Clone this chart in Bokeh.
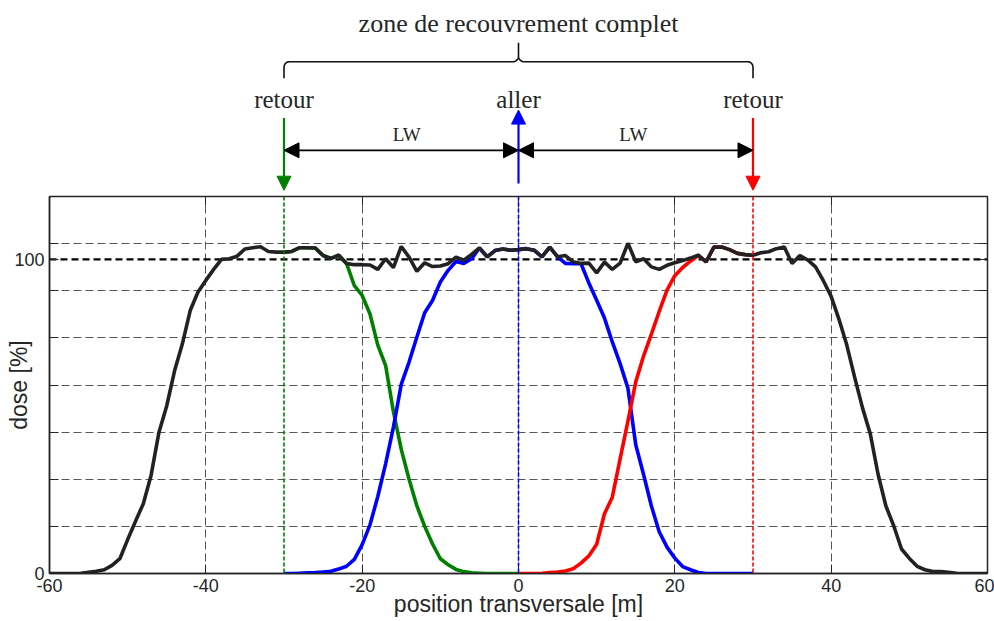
import numpy as np
from bokeh.plotting import figure
from bokeh.layouts import column
from bokeh.models import Range1d, FixedTicker, LinearAxis, Arrow, NormalHead, Span
from bokeh.core.properties import value
from bokeh.embed import file_html
from bokeh.resources import INLINE

# ---------------- data ----------------
x_total = list(range(-60, 61))
dose_total = [
    0, 0, 0, 0,
    0.1, 0.4, 0.7, 1.2, 2.6, 4.7, 10.8, 16.6, 22.2, 31.3, 44.9, 53.4, 64.5, 73.1, 83.7, 89.6, 93.3, 96.8,
    100.0, 100.2, 101.0, 103.3, 103.7, 104.0, 102.5, 102.3, 102.3, 102.5, 103.7, 103.7, 103.6, 101.2, 100.3,
    101.3, 98.7, 98.3, 98.3, 98.2, 96.8, 100.2, 97.4, 104.1, 100.7, 96.2, 98.9, 97.7, 97.9, 98.6, 100.7,
    99.7, 101.6, 103.6, 100.8, 102.8, 103.3, 102.9,
    103.1,
    103.4, 102.9, 100.8, 103.9, 100.8, 101.2, 99.2, 98.7, 98.8, 95.7, 99.1, 96.8, 98.8, 105.1, 99.2,
    100.2, 97.6, 96.8, 98.1, 98.9, 99.6, 100.4, 101.3, 99.2, 103.9, 103.9, 103.1, 101.9, 101.5, 101.3,
    102.1, 102.4, 103.4, 103.9, 98.7, 101.2, 99.8, 97.6, 93.2, 88.2, 80.9, 72.7, 62.5, 52.8, 44.5, 31.6,
    21.5, 15.2, 7.8, 4.8, 2.3, 1.2, 0.6, 0.6, 0.4, 0.1,
    0, 0, 0, 0,
]

x_aller = list(range(-30, 31))
dose_aller = [
    0, 0, 0.1, 0.2, 0.3, 0.5, 0.7, 1.4, 2.3, 4.5, 9.2, 15.5, 24.5, 34.9, 46.6, 60.2, 67.3, 75.3, 83.0,
    86.9, 92.8, 96.5, 99.3, 98.7, 100.2, 103.6, 100.8, 102.8, 103.3, 102.9,
    103.1,
    103.4, 102.9, 100.8, 103.9, 100.8, 98.7, 98.6, 98.6, 92.5, 87.0, 81.3, 73.7, 66.8, 59.0, 41.0, 31.5,
    21.5, 13.3, 8.4, 4.9, 2.2, 1.2, 0.3, 0, 0, 0, 0, 0, 0, 0,
]

x_retour_gauche = list(range(-30, 1))
dose_retour_gauche = [
    102.3, 102.5, 103.7, 103.7, 103.6, 101.2, 100.3, 101.3, 98.7, 91.6, 88.5, 82.6, 72.7, 66.2, 51.5,
    39.5, 30.0, 21.5, 15.0, 9.4, 4.7, 2.8, 1.3, 0.6, 0.2, 0.1, 0, 0, 0, 0, 0,
]

x_retour_droite = list(range(0, 31))
dose_retour_droite = [
    0, 0, 0, 0.1, 0.3, 0.5, 0.8, 1.5, 3.3, 5.6, 9.3, 19.0, 24.3, 36.5, 48.5, 61.0, 69.2, 76.2, 83.4,
    90.2, 94.8, 97.4, 99.4, 101.3, 99.2, 103.9, 103.9, 103.1, 101.9, 101.5, 101.3,
]

x_ticks = [-60, -40, -20, 0, 20, 40, 60]
x_tick_labels = {v: str(v) for v in x_ticks}
x_grid = [-40, -20, 0, 20, 40]
y_ticks = [0, 15, 30, 45, 60, 75, 90, 100, 105]
y_grid = [15, 30, 45, 60, 75, 90, 105]
y_tick_labels = {0: "0", 100: "100"}
ref_level = 100

pass_x = [-30, 0, 30]
pass_labels = ["retour", "aller", "retour"]
pass_colors = ["#008000", "#0000ff", "#ff0000"]
pass_dir = ["down", "up", "down"]
lw_labels = ["LW", "LW"]
lw_label_x = [-14.3, 14.7]
title_text = "zone de recouvrement complet"
x_label_text = "position transversale [m]"
y_label_text = "dose [%]"

# annotation heights (in dose units, above the frame)
y_title = 175.1
y_brace_mid, y_brace_end, y_brace_tip = 162.9, 157.6, 168.9
y_pass_label = 151.0
y_arrow_hi, y_arrow_lo = 145.0, 122.0
y_aller_lo, y_aller_hi = 124.1, 147.5
y_lw_arrow = 134.7
y_lw_label = 139.7

# ---------------- layout ----------------
W = 994
H_TOP = 194
H_BOT = 427
ML, MR = 49, 7
FRAME_H = 377
ppu = FRAME_H / 120.0
top_y0 = 120 + 2 / ppu
top_y1 = top_y0 + H_TOP / ppu

TXT = "#262626"
SERIF = "Liberation Serif"
SANS = "Liberation Sans"

xr = Range1d(-60, 60)

# ---------- top annotation figure ----------
t = figure(width=W, height=H_TOP, x_range=xr, y_range=Range1d(top_y0, top_y1),
           output_backend="svg", toolbar_location=None,
           x_axis_location=None, y_axis_location=None,
           min_border_left=ML, min_border_right=MR, min_border_top=0, min_border_bottom=0)
t.outline_line_color = None
t.grid.visible = False
t.background_fill_color = "white"
t.border_fill_color = "white"

t.text(x=[0], y=[y_title], text=[title_text], text_font=value(SERIF), text_font_size="26px",
       text_align="center", text_baseline="alphabetic", text_color=TXT)

# brace
rx, ry = 0.7, 1.75
xl, xrr = pass_x[0], pass_x[2]
th = np.linspace(np.pi, np.pi / 2, 8)
bx = [xl]; by = [y_brace_end]
bx += list(xl + rx + rx * np.cos(th)); by += list(y_brace_mid - ry + ry * np.sin(th))
th = np.linspace(-np.pi / 2, 0, 8)
bx += list(-rx + rx * np.cos(th)); by += list(y_brace_mid + ry + ry * np.sin(th))
bx += [0]; by += [y_brace_tip]
th = np.linspace(np.pi, 1.5 * np.pi, 8)
bx += list(rx + rx * np.cos(th)); by += list(y_brace_mid + ry + ry * np.sin(th))
th = np.linspace(np.pi / 2, 0, 8)
bx += list(xrr - rx + rx * np.cos(th)); by += list(y_brace_mid - ry + ry * np.sin(th))
bx += [xrr]; by += [y_brace_end]
t.line(bx, by, line_color="#111111", line_width=1.6)

t.text(x=pass_x, y=[y_pass_label] * 3, text=pass_labels, text_font=value(SERIF), text_font_size="25px",
       text_align="center", text_baseline="alphabetic", text_color=TXT)
t.text(x=lw_label_x, y=[y_lw_label] * 2, text=lw_labels, text_font=value(SERIF), text_font_size="19px",
       text_align="center", text_baseline="alphabetic", text_color=TXT)

for xp, c, d in zip(pass_x, pass_colors, pass_dir):
    if d == "down":
        ys, ye = y_arrow_hi, y_arrow_lo
    else:
        ys, ye = y_aller_lo, y_aller_hi
    t.add_layout(Arrow(end=NormalHead(size=14, fill_color=c, line_color=c, line_width=1),
                       x_start=xp, y_start=ys, x_end=xp, y_end=ye,
                       line_color=c, line_width=2.2))

for a, b in [(pass_x[0], pass_x[1]), (pass_x[1], pass_x[2])]:
    t.add_layout(Arrow(start=NormalHead(size=15, fill_color="black", line_color="black", line_width=1),
                       end=NormalHead(size=15, fill_color="black", line_color="black", line_width=1),
                       x_start=a, y_start=y_lw_arrow, x_end=b, y_end=y_lw_arrow,
                       line_color="black", line_width=1.8))

# ---------- main plot ----------
p = figure(width=W, height=H_BOT, x_range=xr, y_range=Range1d(0, 120),
           output_backend="svg", toolbar_location=None,
           min_border_left=ML, min_border_right=MR, min_border_top=2, min_border_bottom=H_BOT - 2 - FRAME_H)
p.background_fill_color = "white"
p.border_fill_color = "white"
p.outline_line_color = "#262626"
p.outline_line_width = 1.5

for ax in (p.xaxis[0], p.yaxis[0]):
    ax.major_tick_in = 9
    ax.major_tick_out = 0
    ax.minor_tick_in = 0
    ax.minor_tick_out = 0
    ax.axis_line_color = "#262626"
    ax.axis_line_width = 1.5
    ax.major_tick_line_color = "#262626"
    ax.major_label_text_font = SANS
    ax.major_label_text_font_size = "18px"
    ax.major_label_text_color = TXT
    ax.major_label_standoff = 5
    ax.axis_label_text_font = SANS
    ax.axis_label_text_font_size = "23px"
    ax.axis_label_text_font_style = "normal"
    ax.axis_label_text_color = TXT

p.xaxis.axis_label = x_label_text
p.xaxis.axis_label_standoff = -4
p.yaxis.axis_label = y_label_text
p.yaxis.axis_label_standoff = -21

p.xaxis.ticker = FixedTicker(ticks=x_ticks)
p.xaxis.major_label_overrides = x_tick_labels
p.yaxis.ticker = FixedTicker(ticks=y_ticks)
p.yaxis.major_label_overrides = {v: y_tick_labels.get(v, "") for v in y_ticks}

for loc, ticks in (("right", y_ticks), ("above", x_ticks)):
    ax = LinearAxis(ticker=FixedTicker(ticks=ticks), major_tick_in=9, major_tick_out=0,
                    minor_tick_in=0, minor_tick_out=0, major_label_standoff=0,
                    major_label_text_font_size="1px", axis_line_color="#262626",
                    major_tick_line_color="#262626",
                    major_label_overrides={v: "" for v in ticks})
    p.add_layout(ax, loc)

p.xgrid.ticker = FixedTicker(ticks=x_grid)
p.ygrid.ticker = FixedTicker(ticks=y_grid)
p.grid.grid_line_color = "#555555"
p.grid.grid_line_dash = "8 4"
p.grid.grid_line_width = 1

p.add_layout(Span(location=ref_level, dimension="width", line_color="black", line_width=2.2,
                  line_dash="7 4", level="underlay"))

p.line(x_retour_gauche, dose_retour_gauche, line_color=pass_colors[0], line_width=3.6)
p.line(x_aller, dose_aller, line_color=pass_colors[1], line_width=3.6)
p.line(x_retour_droite, dose_retour_droite, line_color=pass_colors[2], line_width=3.6)
p.line(x_total, dose_total, line_color="#222222", line_width=3.6)

for xp, c in zip(pass_x, pass_colors):
    p.add_layout(Span(location=xp, dimension="height", line_color=c, line_width=1.6, line_dash="4 2"))

layout = column(t, p)
open("out.html", "w").write(file_html(layout, INLINE))
